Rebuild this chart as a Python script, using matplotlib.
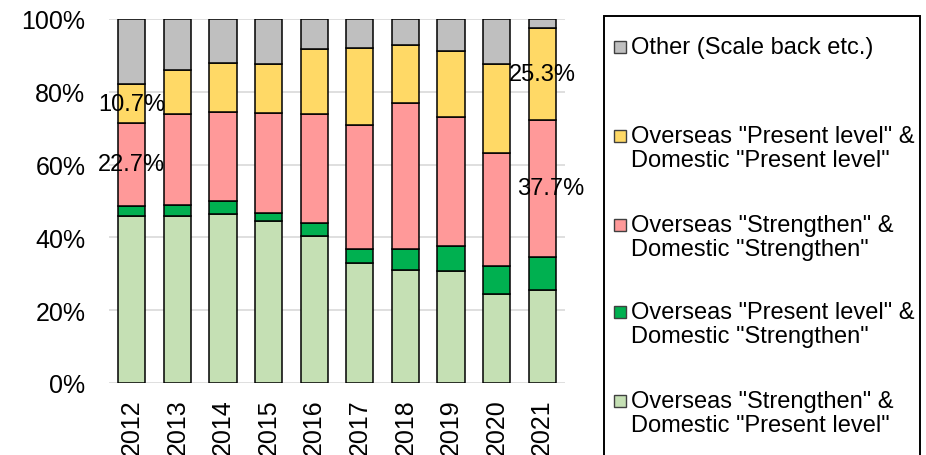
import matplotlib.pyplot as plt
from matplotlib.patches import Rectangle
import numpy as np

plt.rcParams['font.family'] = ['Liberation Sans', 'DejaVu Sans']

# Share of respondents per survey year (%), stacked bottom to top
years = ['2012', '2013', '2014', '2015', '2016', '2017', '2018', '2019', '2020', '2021']
str_present = [46.0, 46.0, 46.4, 44.5, 40.5, 32.9, 31.1, 30.9, 24.5, 25.6]
present_str = [2.7, 3.0, 3.5, 2.3, 3.4, 3.8, 5.7, 6.8, 7.6, 9.0]
str_str = [22.7, 24.8, 24.5, 27.3, 30.1, 34.1, 40.1, 35.5, 31.1, 37.7]
present_present = [10.7, 12.3, 13.4, 13.6, 17.8, 21.1, 16.0, 18.0, 24.5, 25.3]
other = [17.9, 13.9, 12.2, 12.3, 8.2, 8.1, 7.1, 8.8, 12.3, 2.4]

series = [
    ('Overseas "Strengthen" &\nDomestic "Present level"', str_present, '#C5E0B4'),
    ('Overseas "Present level" &\nDomestic "Strengthen"', present_str, '#00B050'),
    ('Overseas "Strengthen" &\nDomestic "Strengthen"', str_str, '#FF9999'),
    ('Overseas "Present level" &\nDomestic "Present level"', present_present, '#FFD966'),
    ('Other (Scale back etc.)', other, '#BFBFBF'),
]

# (series index, year index, x offset in points) for the value labels
labelled = [(2, 0, 0), (3, 0, 0), (2, 9, 6), (3, 9, 0)]

fig = plt.figure(figsize=(9.26, 4.56), dpi=100)
ax = fig.add_axes([109 / 926, 1 - 384 / 456, 456 / 926, 364 / 456])

x = np.arange(len(years))
bottom = np.zeros(len(years))
for name, vals, color in series:
    ax.bar(x, vals, 0.6, bottom=bottom, color=color, edgecolor='black',
           linewidth=1.1, zorder=3)
    bottom += np.array(vals)

bases = np.cumsum([np.zeros(len(years))] + [np.array(s[1]) for s in series], axis=0)
for si, yi, dx in labelled:
    v = series[si][1][yi]
    ax.annotate(f'{v:.1f}%', (x[yi], bases[si][yi] + v / 2), xytext=(dx, 0),
                textcoords='offset points', ha='center', va='center',
                fontsize=17, zorder=4)

ax.set_xlim(-0.5, 9.5)
ax.set_ylim(0, 100)
ax.set_yticks(np.arange(0, 101, 20))
ax.set_yticklabels([f'{t}%' for t in range(0, 101, 20)], fontsize=18)
ax.set_xticks(x)
ax.set_xticklabels(years, rotation=90, fontsize=18, va='top')
ax.tick_params(axis='y', length=0, pad=17)
ax.tick_params(axis='x', length=0, pad=11)
ax.grid(axis='y', color='#D9D9D9', linewidth=1.2, zorder=0)
for sp in ax.spines.values():
    sp.set_visible(False)

# Legend box drawn by hand so the entries can be spaced out
W, H = 926, 456
fig.patches.append(Rectangle((604 / W, 1 - 470 / H), 316 / W, 453 / H,
                             transform=fig.transFigure, fill=False,
                             edgecolor='black', linewidth=1.4))
entry_y = [48, 137, 226, 313, 402]
for (name, vals, color), yc in zip(series[::-1], entry_y):
    fig.patches.append(Rectangle((614 / W, 1 - (yc + 6) / H), 12 / W, 12 / H,
                                 transform=fig.transFigure, facecolor=color,
                                 edgecolor='#404040', linewidth=1.0))
    fig.text(631 / W, 1 - (yc - 11) / H, name, fontsize=17, ha='left', va='top',
             linespacing=1.13)

fig.savefig('out.png', dpi=100)
